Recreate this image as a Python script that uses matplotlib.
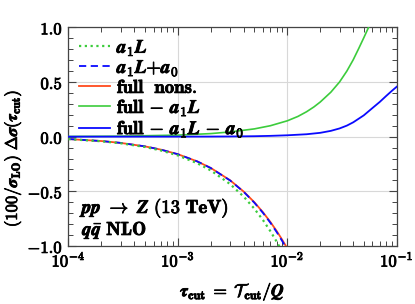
import matplotlib
matplotlib.use('Agg')
import matplotlib.pyplot as plt
import matplotlib.patheffects as pe
from matplotlib.ticker import FixedLocator, FixedFormatter, NullFormatter

plt.rcParams['mathtext.fontset'] = 'cm'

# lower curves: tau grid and values (percent of sigma_LO)
tau_lo = [1e-4, 2e-4, 3e-4, 5e-4, 7e-4, 1e-3, 1.5e-3, 2e-3, 3e-3, 4e-3,
          5e-3, 6e-3, 7e-3, 8e-3, 9e-3, 1e-2]
a1L = [-0.0229, -0.0424, -0.0606, -0.0946, -0.1266, -0.1720, -0.2429, -0.3095,
       -0.4339, -0.5499, -0.6596, -0.7643, -0.8649, -0.9617, -1.0558, -1.1466]
a1L_a0 = [-0.0218, -0.0402, -0.0573, -0.0891, -0.1189, -0.1610, -0.2264, -0.2875,
          -0.4009, -0.5059, -0.6046, -0.6983, -0.7879, -0.8737, -0.9568, -1.0366]
full_nons = [-0.0218, -0.0402, -0.0573, -0.0891, -0.1188, -0.1608, -0.2260, -0.2868,
             -0.3993, -0.5032, -0.6004, -0.6927, -0.7806, -0.8641, -0.9452, -1.0225]

# upper curves
tau_hi_g = [1e-4, 3e-4, 1e-3, 2e-3, 3e-3, 5e-3, 7e-3, 1e-2, 1.25e-2, 1.5e-2, 1.75e-2, 2e-2,
            2.5e-2, 3e-2, 3.5e-2, 4e-2, 4.5e-2, 5e-2, 5.5e-2, 6e-2]
full_m_a1L = [0.0014, 0.0042, 0.014, 0.028, 0.043, 0.071, 0.100, 0.145, 0.185, 0.228, 0.272, 0.317,
              0.407, 0.50, 0.600, 0.703, 0.808, 0.905, 0.995, 1.08]
tau_hi_b = [1e-4, 1e-3, 2e-3, 3e-3, 5e-3, 7e-3, 1e-2, 1.5e-2, 2e-2, 2.5e-2,
            3e-2, 3.5e-2, 4e-2, 5e-2, 6e-2, 7e-2, 8e-2, 9e-2, 1e-1]
full_m_a1L_a0 = [0.0, 0.0002, 0.0008, 0.0017, 0.0040, 0.0072, 0.0125, 0.022, 0.035, 0.053,
                 0.075, 0.101, 0.131, 0.195, 0.262, 0.318, 0.372, 0.418, 0.457]

xticks = [1e-4, 1e-3, 1e-2, 1e-1]
xticklabels = [r'$\mathbf{10^{-4}}$', r'$\mathbf{10^{-3}}$', r'$\mathbf{10^{-2}}$', r'$\mathbf{10^{-1}}$']
yticks = [-1.0, -0.5, 0.0, 0.5, 1.0]
yticklabels = [r'$\mathbf{-1.0}$', r'$\mathbf{-0.5}$', r'$\mathbf{0.0}$', r'$\mathbf{0.5}$', r'$\mathbf{1.0}$']

green = '#3ccc3c'
blue = '#0a0aff'
red = '#ff4a1c'
bold = [pe.withStroke(linewidth=0.6, foreground='black')]

fig = plt.figure(figsize=(4.15, 3.04), dpi=100)
ax = fig.add_axes([0.165, 0.191, 0.791, 0.719])

ax.plot(tau_lo, full_nons, color=red, lw=1.3, label=r'$\mathbf{full\ \ nons.}$', zorder=3)
ax.plot(tau_lo, a1L_a0, color=blue, lw=1.3, ls=(0, (4, 2.5)),
        label=r'$\boldsymbol{a}_{\mathbf{1}}\boldsymbol{L}\mathbf{+}\boldsymbol{a}_{\mathbf{0}}$', zorder=4)
ax.plot(tau_lo, a1L, color=green, lw=1.6, ls=(0, (1, 1.6)),
        label=r'$\boldsymbol{a}_{\mathbf{1}}\boldsymbol{L}$', zorder=5)
ax.plot(tau_hi_g, full_m_a1L, color=green, lw=1.2,
        label=r'$\mathbf{full}\,-\,\boldsymbol{a}_{\mathbf{1}}\boldsymbol{L}$', zorder=3)
ax.plot(tau_hi_b, full_m_a1L_a0, color=blue, lw=1.3,
        label=r'$\mathbf{full}\,-\,\boldsymbol{a}_{\mathbf{1}}\boldsymbol{L}\,-\,\boldsymbol{a}_{\mathbf{0}}$', zorder=3)

ax.set_xscale('log')
ax.set_xlim(1e-4, 1e-1)
ax.set_ylim(-1.0, 1.0)
ax.xaxis.set_major_locator(FixedLocator(xticks))
ax.xaxis.set_major_formatter(FixedFormatter(xticklabels))
ax.xaxis.set_minor_formatter(NullFormatter())
ax.yaxis.set_major_locator(FixedLocator(yticks))
ax.yaxis.set_major_formatter(FixedFormatter(yticklabels))
ax.yaxis.set_minor_locator(FixedLocator([v / 10 for v in range(-10, 11)]))

ax.grid(which='major', color='#d8d8d8', lw=0.8)
ax.tick_params(which='both', direction='in', top=True, right=True, colors='#444444', labelcolor='black')
ax.tick_params(which='major', length=6, width=0.8, labelsize=12, pad=4)
ax.tick_params(which='minor', length=3.5, width=0.7)
for s in ax.spines.values():
    s.set_color('#444444')
    s.set_linewidth(0.9)
for t in ax.get_xticklabels() + ax.get_yticklabels():
    t.set_path_effects(bold)

handles, labels = ax.get_legend_handles_labels()
order = [2, 1, 0, 3, 4]
leg = ax.legend([handles[i] for i in order], [labels[i] for i in order], loc='upper left',
                frameon=False, fontsize=13.5, handlelength=1.65, handletextpad=0.38,
                labelspacing=0.0, borderaxespad=0.2, borderpad=0.35)
for t in leg.get_texts():
    t.set_path_effects(bold)

ax.text(0.041, 0.174, r'$\boldsymbol{pp}\ \mathbf{\rightarrow}\ \boldsymbol{Z}\ \mathbf{(13\ TeV)}$',
        transform=ax.transAxes, fontsize=13.5, va='center', ha='left', path_effects=bold)
ax.text(0.041, 0.073, r'$\boldsymbol{q}\bar{\boldsymbol{q}}\ \mathbf{NLO}$',
        transform=ax.transAxes, fontsize=13.5, va='center', ha='left', path_effects=bold)

ax.set_xlabel(r'$\boldsymbol{\tau}_{\mathbf{cut}}\;\mathbf{=}\;\mathcal{T}_{\mathbf{cut}}\mathbf{/}\boldsymbol{Q}$',
              fontsize=12.5, labelpad=7, path_effects=bold)
ax.set_ylabel(r'$\mathbf{(100/}\boldsymbol{\sigma}_{\mathbf{LO}}\mathbf{)}\ \mathbf{\Delta}\boldsymbol{\sigma}\mathbf{(}\boldsymbol{\tau}_{\mathbf{cut}}\mathbf{)}$',
              fontsize=12, path_effects=bold)
ax.yaxis.set_label_coords(-0.136, 0.40)

fig.savefig('out.png', dpi=100)
